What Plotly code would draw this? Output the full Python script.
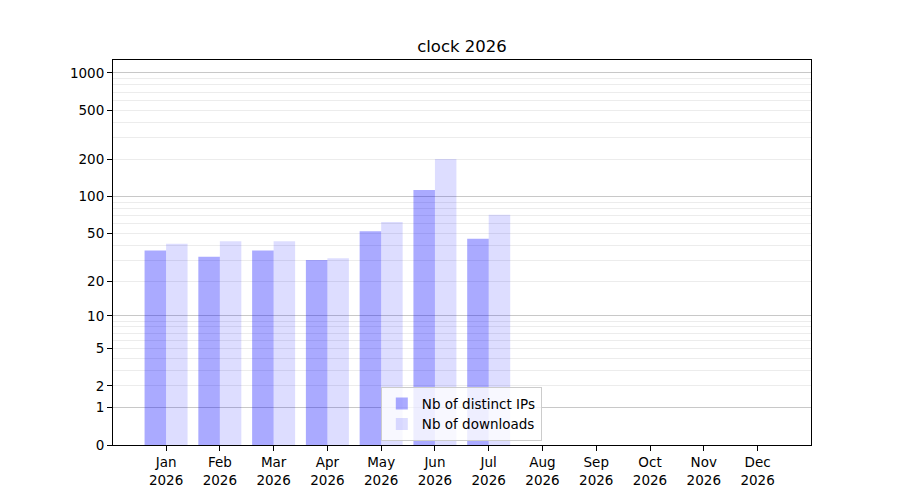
import plotly.graph_objects as go

months = ["Jan", "Feb", "Mar", "Apr", "May", "Jun", "Jul", "Aug", "Sep", "Oct", "Nov", "Dec"]
year = "2026"
distinct_ips = [36, 32, 36, 30, 52, 113, 45, 0, 0, 0, 0, 0]
downloads = [41, 43, 43, 31, 62, 202, 71, 0, 0, 0, 0, 0]
ytick_labels = [0, 1, 2, 5, 10, 20, 50, 100, 200, 500, 1000]

# axis is log10(1 + value): values are shifted by one onto a log axis
x_pos = list(range(len(months)))
tick_text = [f"{m}<br>{year}" for m in months]
ip_y = [v + 1 for v in distinct_ips]
dl_y = [v + 1 for v in downloads]
ytick_vals = [t + 1 for t in ytick_labels]
minor_vals = []
for dec in (1, 10, 100):
    for k in range(2, 10):
        minor_vals.append(k * dec + 1)
major_vals = [2, 11, 101, 1001]

FONT = "DejaVu Sans"
OFF = 8  # page body margin offset

fig = go.Figure()
fig.add_trace(go.Bar(x=x_pos, y=ip_y, name="Nb of distinct IPs",
                     marker=dict(color="rgba(0,0,255,0.333)", line=dict(width=0)),
                     width=0.4, offset=-0.4))
fig.add_trace(go.Bar(x=x_pos, y=dl_y, name="Nb of downloads",
                     marker=dict(color="rgba(0,0,255,0.135)", line=dict(width=0)),
                     width=0.4, offset=0.0))
fig.add_trace(go.Scatter(x=[0], y=[1], yaxis="y2", mode="markers",
                         marker=dict(opacity=0), showlegend=False, hoverinfo="skip"))

yr = [0, 3.105]
fig.update_layout(
    width=900, height=500,
    paper_bgcolor="white", plot_bgcolor="white",
    margin=dict(l=113 - OFF, r=89 + OFF, t=60 - OFF, b=55 + OFF, autoexpand=False),
    font=dict(family=FONT, size=13.5, color="black"),
    title=dict(text="clock 2026", x=0.5, xref="paper", xanchor="center",
               y=1 - (46 - OFF) / 500, yref="container", yanchor="middle",
               font=dict(family=FONT, size=16.5, color="black")),
    barmode="overlay",
    showlegend=True,
    legend=dict(x=0.499, y=0.01, xanchor="center", yanchor="bottom",
                bgcolor="rgba(255,255,255,0.8)", bordercolor="#cccccc", borderwidth=1,
                font=dict(family=FONT, size=13.5, color="black"),
                traceorder="normal", tracegroupgap=0, itemwidth=30),
    xaxis=dict(range=[-0.987, 11.994], tickmode="array", tickvals=x_pos, ticktext=tick_text,
               ticks="outside", ticklen=5, tickcolor="black", showgrid=False, zeroline=False,
               showline=True, linecolor="black", linewidth=1, mirror=True, automargin=False,
               tickfont=dict(family=FONT, size=13.5, color="black")),
    yaxis=dict(type="log", range=yr, tickmode="array", tickvals=ytick_vals,
               ticktext=[str(t) for t in ytick_labels], automargin=False,
               ticks="outside", ticklen=5, tickcolor="black", showgrid=False, zeroline=False,
               showline=True, linecolor="black", linewidth=1, mirror=True,
               tickfont=dict(family=FONT, size=13.5, color="black"),
               minor=dict(tickmode="array", tickvals=minor_vals, showgrid=True,
                          gridcolor="#ececec", gridwidth=1, ticks="")),
    yaxis2=dict(type="log", range=yr, overlaying="y", side="left", tickmode="array",
                tickvals=major_vals, showticklabels=False, ticks="", showgrid=True,
                gridcolor="#c8c8c8", gridwidth=1, zeroline=False, showline=False,
                automargin=False),
)

fig.write_html("out.html")
